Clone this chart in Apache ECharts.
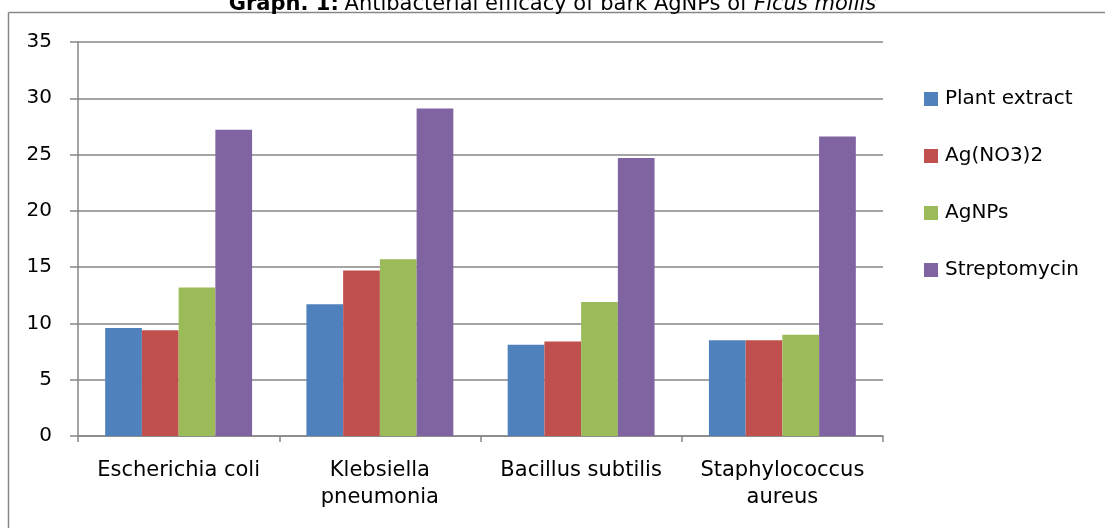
<!DOCTYPE html>
<html>
<head>
<meta charset="utf-8">
<script src="https://cdn.jsdelivr.net/npm/echarts@6/dist/echarts.min.js"></script>
<style>html,body{margin:0;padding:0;background:#fff}#c{width:1105px;height:528px}</style>
</head>
<body>
<div id="c"></div>
<script>
var categories = ['Escherichia coli', 'Klebsiella\npneumonia', 'Bacillus subtilis', 'Staphylococcus\naureus'];
var seriesNames = ['Plant extract', 'Ag(NO3)2', 'AgNPs', 'Streptomycin'];
var plantExtract = [9.6, 11.7, 8.1, 8.5];
var agNO3 = [9.4, 14.7, 8.4, 8.5];
var agNPs = [13.2, 15.7, 11.9, 9.0];
var streptomycin = [27.2, 29.1, 24.7, 26.6];
var colors = ['#4F81BD', '#C0504D', '#9BBB59', '#8064A2'];
var FONT = 'DejaVu Sans';
var chart = echarts.init(document.getElementById('c'));
var dataSets = [plantExtract, agNO3, agNPs, streptomycin];
chart.setOption({
  animation: false,
  textStyle: {fontFamily: FONT},
  title: {
    left: 'center', top: -11,
    text: '{b|Graph. 1:} {n|Antibacterial efficacy of bark AgNPs of }{i|Ficus mollis}',
    textStyle: {
      fontWeight: 'normal',
      rich: {
        b: {fontWeight: 'bold', fontSize: 21, fontFamily: FONT, color: '#000'},
        n: {fontWeight: 'normal', fontSize: 21, fontFamily: FONT, color: '#000'},
        i: {fontWeight: 'normal', fontStyle: 'italic', fontSize: 21, fontFamily: FONT, color: '#000'}
      }
    }
  },
  graphic: [
    {type: 'line', shape: {x1: 8.5, y1: 12.5, x2: 1105, y2: 12.5}, style: {stroke: '#868686', lineWidth: 1.5}},
    {type: 'line', shape: {x1: 8.5, y1: 12.5, x2: 8.5, y2: 528}, style: {stroke: '#868686', lineWidth: 1.5}}
  ],
  legend: {
    orient: 'vertical', left: 924, top: 89, padding: 0,
    itemWidth: 14, itemHeight: 14, itemGap: 37,
    icon: 'rect',
    textStyle: {fontSize: 20, fontFamily: FONT, color: '#000', padding: [0, 0, 0, 2]},
    data: seriesNames
  },
  grid: {left: 78, right: 222, top: 42, bottom: 92},
  xAxis: {
    type: 'category', data: categories,
    axisLine: {lineStyle: {color: '#868686', width: 1.5}},
    axisTick: {show: true, length: 6, lineStyle: {color: '#868686', width: 1.5}},
    axisLabel: {fontSize: 21, color: '#000', margin: 21, lineHeight: 27, fontFamily: FONT, interval: 0}
  },
  yAxis: {
    type: 'value', min: 0, max: 35, interval: 5,
    axisLine: {show: true, lineStyle: {color: '#868686', width: 1.5}},
    axisTick: {show: true, length: 8, lineStyle: {color: '#868686', width: 1.5}},
    splitLine: {lineStyle: {color: '#868686', width: 1.5}},
    axisLabel: {fontSize: 20, color: '#000', margin: 26, fontFamily: FONT}
  },
  series: seriesNames.map(function (n, i) {
    return {
      name: n, type: 'bar', data: dataSets[i],
      barGap: '0%', barCategoryGap: '27%',
      itemStyle: {color: colors[i]}
    };
  })
});
</script>
</body>
</html>
